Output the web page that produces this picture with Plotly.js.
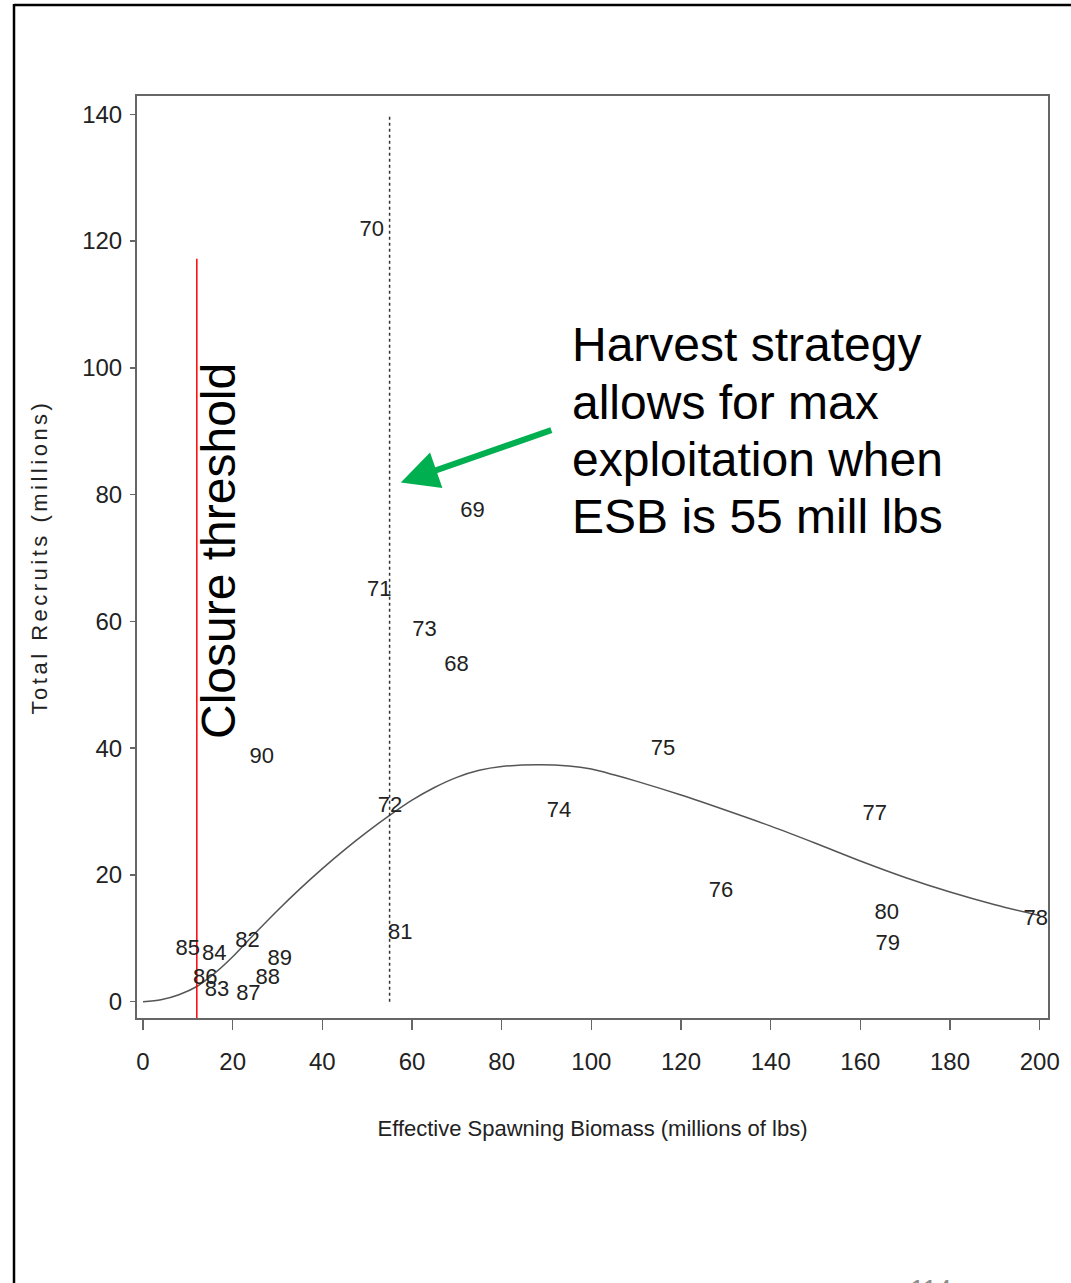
<!DOCTYPE html>
<html>
<head>
<meta charset="utf-8">
<script src="https://cdn.plot.ly/plotly-3.0.1.min.js"></script>
<style>
  html, body { margin: 0; padding: 0; background: #fff; }
  #chart { width: 1071px; height: 1283px; }
</style>
</head>
<body>
<div id="chart"></div>
<script>
// ---- Data ----
const yearLabels = ["70","69","71","73","68","75","90","72","74","77","76","80","79","78","81",
                    "85","84","82","89","86","83","88","87"];
const esb        = [51.0, 73.5, 52.7, 62.8, 69.9, 116.0, 26.5, 55.1, 92.8, 163.2, 128.9, 165.9, 166.1, 199.1, 57.4,
                    10.0, 15.9, 23.3, 30.5, 13.9, 16.5, 27.8, 23.5];
const recruits   = [121.6, 77.4, 64.8, 58.6, 53.1, 39.8, 38.5, 30.8, 30.0, 29.5, 17.4, 13.9, 9.0, 13.0, 10.7,
                    8.3, 7.4, 9.5, 6.6, 3.7, 1.8, 3.7, 1.1];

// fitted stock-recruit curve
const curveX = [0, 4, 8, 12, 16, 20, 25, 30, 35, 40, 45, 50, 55, 60, 65, 70, 75, 80, 88, 95, 100, 105, 110, 120, 130, 140, 150, 160, 170, 180, 190, 200];
const curveY = [0, 0.3, 1.1, 2.4, 4.5, 7.1, 10.8, 14.4, 17.8, 21.0, 24.0, 26.8, 29.4, 31.8, 33.8, 35.4, 36.5, 37.1, 37.4, 37.2, 36.7, 35.8, 34.8, 32.6, 30.2, 27.7, 25.0, 22.2, 19.6, 17.3, 15.3, 13.6];

const closureThreshold = [12, 12];
const closureY        = [-2.6, 117.2];
const maxExploitESB   = [55, 55];
const maxExploitY     = [0, 140];

const xTicks = [0, 20, 40, 60, 80, 100, 120, 140, 160, 180, 200];
const yTicks = [0, 20, 40, 60, 80, 100, 120, 140];

const noteLines = ["Harvest strategy", "allows for max", "exploitation when", "ESB is 55 mill lbs"];
const noteY     = [103.7, 94.6, 85.6, 76.6];

// ---- Drawing ----
const sans = "Liberation Sans, Arial, sans-serif";

const traces = [
  { x: curveX, y: curveY, mode: "lines", line: { color: "#555", width: 1.5, shape: "spline", smoothing: 0.8 }, hoverinfo: "skip" },
  { x: maxExploitESB, y: maxExploitY, mode: "lines", line: { color: "#333", width: 1.5, dash: "dot" }, hoverinfo: "skip" },
  { x: closureThreshold, y: closureY, mode: "lines", line: { color: "#ff0000", width: 1.5 }, hoverinfo: "skip" },
  { x: esb, y: recruits, mode: "text", text: yearLabels, textposition: "middle center",
    textfont: { family: sans, size: 22, color: "#222" }, cliponaxis: false }
];

const paperX = px => (px - 137) / 911;
const paperY = py => (1018 - py) / 922;

const annotations = noteLines.map((t, i) => ({
  text: t, x: 95.2, y: noteY[i], xref: "x", yref: "y", xanchor: "left", yanchor: "middle",
  showarrow: false, font: { family: sans, size: 48, color: "#000" }
}));
annotations.push({
  text: "", x: 57.5, y: 81.9, xref: "x", yref: "y", ax: 152, ay: -53, showarrow: true,
  arrowhead: 2, arrowsize: 1.25, arrowwidth: 6, arrowcolor: "#00b050", standoff: 0
});
annotations.push({
  text: "Closure threshold", x: paperX(218), y: paperY(551), xref: "paper", yref: "paper",
  xanchor: "center", yanchor: "middle", textangle: -90, showarrow: false,
  font: { family: sans, size: 48, color: "#000" }
});
annotations.push({
  text: "114", x: paperX(930), y: paperY(1289), xref: "paper", yref: "paper",
  xanchor: "center", yanchor: "middle", showarrow: false,
  font: { family: sans, size: 26, color: "#8c8c8c" }
});

const layout = {
  width: 1071, height: 1283,
  margin: { l: 137, r: 23, t: 96, b: 265 },
  paper_bgcolor: "#fff", plot_bgcolor: "#fff",
  showlegend: false,
  xaxis: {
    range: [-1.34, 201.85], tickvals: xTicks, ticktext: xTicks.map(String),
    showgrid: false, zeroline: false, showline: true, mirror: true, linecolor: "#666", linewidth: 2,
    ticks: "outside", ticklen: 10, tickwidth: 1.5, tickcolor: "#666", ticklabelstandoff: 11,
    tickfont: { family: sans, size: 24, color: "#222" },
    title: { text: "Effective Spawning Biomass (millions of lbs)", standoff: 47,
             font: { family: sans, size: 22, color: "#222" } }
  },
  yaxis: {
    range: [-2.57, 142.89], tickvals: yTicks, ticktext: yTicks.map(String),
    showgrid: false, zeroline: false, showline: true, mirror: true, linecolor: "#666", linewidth: 2,
    ticks: "outside", ticklen: 5, tickwidth: 1.5, tickcolor: "#666", ticklabelstandoff: 3,
    tickfont: { family: sans, size: 24, color: "#222" },
    title: { text: "Total Recruits (millions)", standoff: 28,
             font: { family: sans, size: 22, color: "#222" } }
  },
  shapes: [
    { type: "line", xref: "paper", yref: "paper", x0: paperX(14), x1: paperX(1075), y0: paperY(5), y1: paperY(5),
      line: { color: "#000", width: 2.5 } },
    { type: "line", xref: "paper", yref: "paper", x0: paperX(14), x1: paperX(14), y0: paperY(4), y1: paperY(1290),
      line: { color: "#000", width: 2.5 } }
  ],
  annotations: annotations
};

Plotly.newPlot("chart", traces, layout, { displayModeBar: false, staticPlot: true }).then(() => {
  const yt = document.querySelector(".ytitle");
  if (yt) yt.style.letterSpacing = "3.5px";
});
</script>
</body>
</html>
